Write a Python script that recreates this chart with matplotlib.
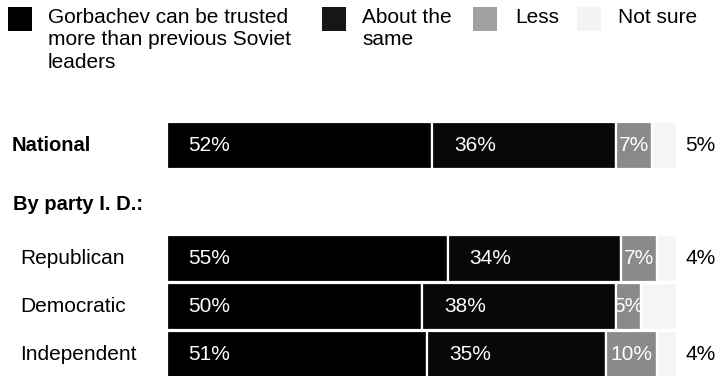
import matplotlib
matplotlib.use("Agg")
import matplotlib.pyplot as plt
from matplotlib.patches import Rectangle
import numpy as np

plt.rcParams['font.family'] = ['Liberation Sans', 'DejaVu Sans']

# survey results, percent
groups = ["National", "Republican", "Democratic", "Independent"]
trusted_more = [52, 55, 50, 51]
about_same = [36, 34, 38, 35]
less = [7, 7, 5, 10]
not_sure = [5, 4, 7, 4]
not_sure_labels = ["5%", "4%", "", "4%"]

legend_names = ["Gorbachev can be trusted\nmore than previous Soviet\nleaders",
                "About the\nsame", "Less", "Not sure"]
colors = ["#000000", "#080808", "#8a8a8a", "#f5f5f5"]
legend_colors = ["#000000", "#161616", "#a0a0a0", "#f4f4f4"]

W, H = 715, 376
fig = plt.figure(figsize=(W / 100, H / 100), dpi=100)

# bar geometry in pixels
x0_px = 167
px_per_pct = 5.1
row_px = 48
row_y = [0, 2.354, 3.354, 4.354]
top_row_px = 145.5


def xu(px):
    return (px - x0_px) / px_per_pct


def yu(py):
    return (py - top_row_px) / row_px


ax = fig.add_axes([0, 0, 1, 1])
ax.set_xlim(xu(0), xu(W))
ax.set_ylim(yu(H), yu(0))
ax.axis("off")

series = [trusted_more, about_same, less, not_sure]
left = np.zeros(len(groups))
for vals, col in zip(series, colors):
    ax.barh(row_y, vals, left=left, height=47 / row_px, color=col,
            edgecolor="white", linewidth=1.6)
    left += np.array(vals)

fs = 15
for i in range(len(groups)):
    y = row_y[i]
    a, b, c = trusted_more[i], about_same[i], less[i]
    ax.text(xu(x0_px + 21), y, f"{a}%", color="white", fontsize=fs,
            va="center", ha="left")
    ax.text(a + xu(x0_px + 22), y, f"{b}%", color="white", fontsize=fs,
            va="center", ha="left")
    ax.text(a + b + c / 2, y, f"{c}%", color="white", fontsize=fs,
            va="center", ha="center")
    ax.text(xu(685), y, not_sure_labels[i], color="black", fontsize=fs,
            va="center", ha="left")

# row labels
ax.text(xu(12), row_y[0], groups[0], fontsize=14.5, fontweight="bold",
        va="center", ha="left")
ax.text(xu(13), yu(205), "By party I. D.:", fontsize=14.5, fontweight="bold",
        va="center", ha="left")
for i in range(1, len(groups)):
    ax.text(xu(20), row_y[i], groups[i], fontsize=fs, va="center", ha="left")

# legend drawn in pixel coordinates
lax = fig.add_axes([0, 0, 1, 1])
lax.set_xlim(0, W)
lax.set_ylim(H, 0)
lax.axis("off")
lax.patch.set_alpha(0)
box_x = [8, 322, 473, 577]
text_x = [48, 362, 515, 618]
for bx, tx, name, col in zip(box_x, text_x, legend_names, legend_colors):
    lax.add_patch(Rectangle((bx, 7), 24, 24, facecolor=col, edgecolor="none"))
    lax.text(tx, 8, name, fontsize=fs, va="top", ha="left", linespacing=1.22)

fig.savefig("out.png", dpi=100)
